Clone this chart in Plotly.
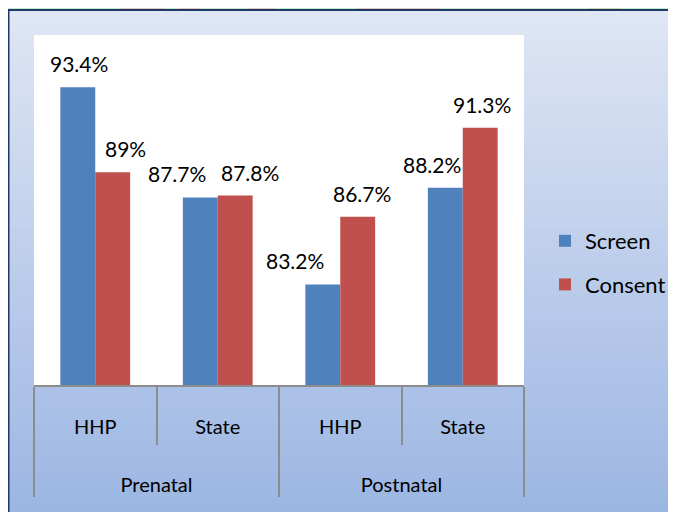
import plotly.graph_objects as go

# ---- data ----
phase = ["Prenatal", "Prenatal", "Postnatal", "Postnatal"]
site = ["HHP", "State", "HHP", "State"]
screen = [93.4, 87.7, 83.2, 88.2]
consent = [89.0, 87.8, 86.7, 91.3]
series_names = ["Screen", "Consent"]

# ---- style ----
OFF = 8                      # page offset of the figure inside the browser window
W, H = 676 - OFF, 512 - OFF  # figure size
SW, SH = 676, 512            # screen size
PL, PR, PT, PB = 34, 524, 35, 385  # plot area in screen pixels
BLUE, RED = "#4F81BD", "#C0504D"
FONT = "Lato"
GRAY = "#8C8C8C"
label_dx = {"Screen": [1, -23, -28, -13], "Consent": [13, 15, 4, 2]}
bar_half = 17.5
PAD_LINES = "<br>\u00a0<br>\u00a0<sub>\u00a0</sub>"   # spacer lines under inner labels (pushes outer labels down)


def fx(x):
    return (x - PL) / (PR - PL)


def fy(y):
    return (PB - y) / (PB - PT)


site_labels = [s + PAD_LINES for s in site]

fig = go.Figure()
for name, vals, col in [("Screen", screen, BLUE), ("Consent", consent, RED)]:
    fig.add_trace(go.Bar(
        name=name, x=[phase, site_labels], y=vals, marker=dict(color=col, line=dict(width=0)),
        legendgroup=name,
    ))

# data labels
annotations = []
for k, (name, vals) in enumerate([("Screen", screen), ("Consent", consent)]):
    sgn = -1 if k == 0 else 1
    for i, v in enumerate(vals):
        annotations.append(dict(
            x=i, y=v, xref="x", yref="y", text=f"{v:g}%", showarrow=False,
            yanchor="bottom", xanchor="center",
            xshift=sgn * bar_half + label_dx[name][i], yshift=9,
            font=dict(family=FONT, size=21, color="black"),
        ))

shapes = []
# green strip background (top and left)
shapes.append(dict(type="rect", xref="paper", yref="paper", x0=fx(-10), x1=fx(SW + 10), y0=fy(-10), y1=fy(SH + 10),
                   fillcolor="#BCEFD2", line=dict(width=0), layer="below"))
for (a, b, c) in [(119, 166, "#DFC9BE"), (178, 201, "#DFC9BE"), (201, 247, "#CEE3CC"),
                  (247, 275, "#DFC9BE"), (355, 440, "#DFC9BE"), (440, 588, "#CEE3CC"),
                  (588, 622, "#C9D6AE")]:
    shapes.append(dict(type="rect", xref="paper", yref="paper", x0=fx(a), x1=fx(b), y0=fy(-10), y1=fy(9),
                       fillcolor=c, line=dict(width=0), layer="below"))
# gradient frame
top = (223, 230, 244)
bot = (156, 182, 227)
n = 60
y_start, y_end = 9, SH
for j in range(n):
    t = j / (n - 1)
    c = tuple(round(top[m] + (bot[m] - top[m]) * t) for m in range(3))
    ya = y_start + (y_end - y_start) * j / n
    yb = y_start + (y_end - y_start) * (j + 1) / n + 0.5
    shapes.append(dict(type="rect", xref="paper", yref="paper", x0=fx(8), x1=fx(SW + 10), y0=fy(ya), y1=fy(yb),
                       fillcolor="rgb(%d,%d,%d)" % c, line=dict(width=0), layer="below"))
# frame border
shapes.append(dict(type="line", xref="paper", yref="paper", x0=fx(8.5), x1=fx(SW + 10), y0=fy(10), y1=fy(10),
                   line=dict(color="#1F3864", width=2), layer="below"))
shapes.append(dict(type="line", xref="paper", yref="paper", x0=fx(8.5), x1=fx(8.5), y0=fy(9), y1=fy(SH + 10),
                   line=dict(color="#1F3864", width=2), layer="below"))
# white plot area
shapes.append(dict(type="rect", xref="paper", yref="paper", x0=0, x1=1, y0=0, y1=1,
                   fillcolor="white", line=dict(width=0), layer="below"))

fig.update_layout(
    width=W, height=H,
    margin=dict(l=PL - OFF, r=W - (PR - OFF), t=PT - OFF, b=H - (PB - OFF), autoexpand=False),
    paper_bgcolor="#BCEFD2", plot_bgcolor="white",
    barmode="group", bargap=0.43, bargroupgap=0,
    font=dict(family=FONT, size=18, color="black"),
    shapes=shapes, annotations=annotations,
    legend=dict(x=fx(545), y=fy(263), xanchor="left", yanchor="middle",
                font=dict(family=FONT, size=22, color="black"),
                bgcolor="rgba(0,0,0,0)", tracegroupgap=12, traceorder="grouped"),
    xaxis=dict(
        showdividers=True, dividercolor=GRAY, dividerwidth=2,
        ticks="outside", tickson="boundaries", ticklen=58, tickcolor=GRAY, tickwidth=2,
        showline=True, linecolor=GRAY, linewidth=2,
        tickfont=dict(family=FONT, size=20, color="black"),
        ticklabelstandoff=23, showgrid=False,
    ),
    yaxis=dict(range=[78, 96.1], visible=False, showgrid=False, zeroline=False),
)

fig.write_html("out.html")
